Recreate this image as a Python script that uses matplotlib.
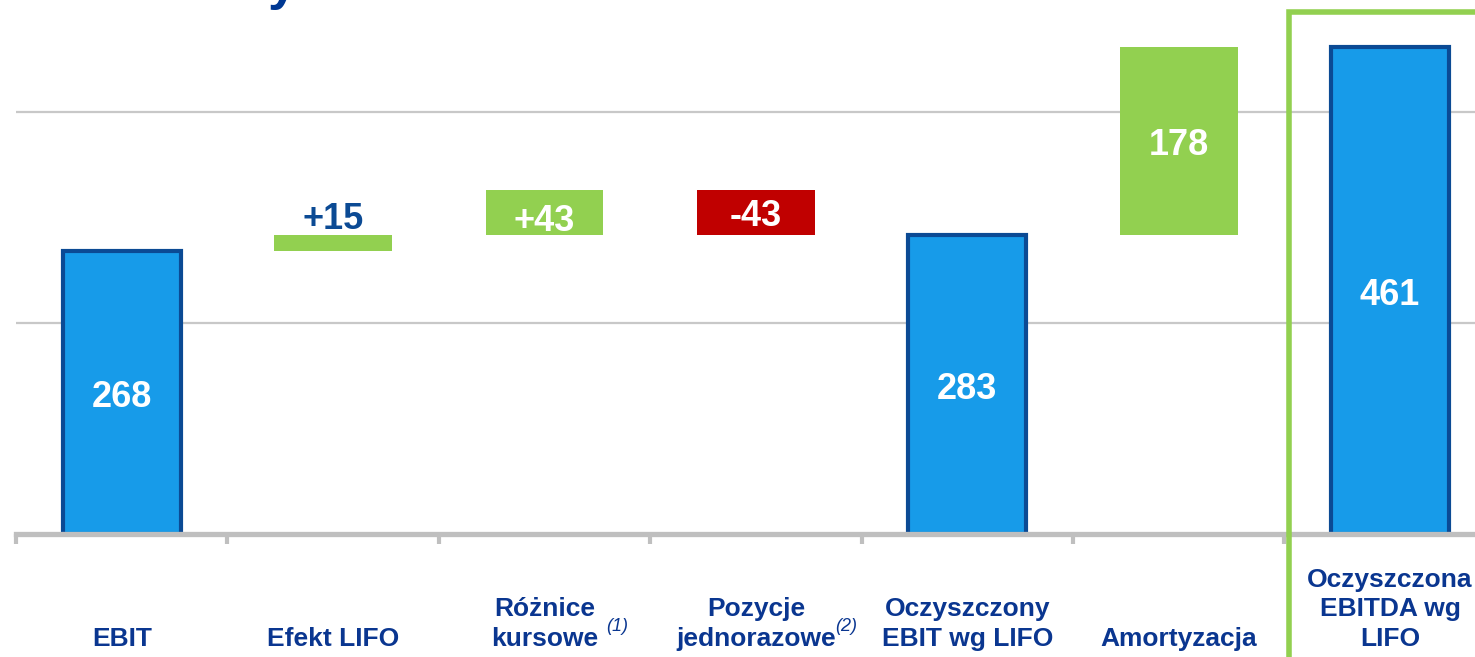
import matplotlib
matplotlib.use("Agg")
import matplotlib.pyplot as plt
from matplotlib.patches import Rectangle
from matplotlib.transforms import blended_transform_factory

categories = ["EBIT", "Efekt LIFO", "Różnice\nkursowe", "Pozycje\njednorazowe",
              "Oczyszczony\nEBIT wg LIFO", "Amortyzacja", "Oczyszczona\nEBITDA wg\nLIFO"]
values = [268, 15, 43, -43, 283, 178, 461]
kinds = ["total", "delta", "delta", "delta", "total", "delta", "total"]
labels = ["268", "+15", "+43", "-43", "283", "178", "461"]
footnotes = {2: "(1)", 3: "(2)"}

BLUE = "#179BE9"
BLUE_EDGE = "#0B4A94"
GREEN = "#92D050"
RED = "#C00000"
TEXT = "#0A3690"
GRID = "#C8C8C8"
AXIS = "#BFBFBF"

# small vertical nudges of the value labels (in data units), styling only
label_dy = [-5, -2, -9, -4, -5, -4, -5]

W, H, DPI = 1475, 657, 100
fig = plt.figure(figsize=(W / DPI, H / DPI), dpi=DPI)
plt.rcParams['font.family'] = ['Liberation Sans', 'DejaVu Sans']

x0_px, x1_px = 16, 16 + 7 * 211.4
y0_px = 534
ax = fig.add_axes([x0_px / W, (H - y0_px) / H, (x1_px - x0_px) / W, y0_px / H])
ax.set_xlim(-0.5, 6.5)
ax.set_ylim(0, y0_px / 1.056)

bw = 0.558
running = 0
for i, (v, k, lab) in enumerate(zip(values, kinds, labels)):
    dy = label_dy[i]
    if k == "total":
        bottom, height = 0, v
        running = v
        ax.bar(i, height, bw, bottom=bottom, color=BLUE, edgecolor=BLUE_EDGE,
               linewidth=3, zorder=2)
        ax.text(i, bottom + height / 2 + dy, lab, ha="center", va="center",
                color="white", fontsize=26, fontweight="bold", zorder=4)
    else:
        bottom = running if v >= 0 else running + v
        height = abs(v)
        running += v
        ax.bar(i, height, bw, bottom=bottom, color=GREEN if v >= 0 else RED,
               linewidth=0, zorder=2)
        if height < 30:
            ax.text(i, bottom + height + dy, lab, ha="center", va="bottom",
                    color=BLUE_EDGE, fontsize=26, fontweight="bold", zorder=4)
        else:
            ax.text(i, bottom + height / 2 + dy, lab, ha="center", va="center",
                    color="white", fontsize=26, fontweight="bold", zorder=4)

ax.set_yticks([200, 400])
ax.yaxis.grid(True, color=GRID, linewidth=1.6)
ax.set_axisbelow(True)
ax.tick_params(axis="y", left=False, labelleft=False)
for s in ["top", "right", "left"]:
    ax.spines[s].set_visible(False)
ax.spines["bottom"].set_color(AXIS)
ax.spines["bottom"].set_linewidth(3.8)
ax.spines["bottom"].set_zorder(3)
ax.set_xticks([i - 0.5 for i in range(8)])
ax.set_xticklabels([])
ax.tick_params(axis="x", direction="out", length=7.5, width=3, color=AXIS)

trans = blended_transform_factory(ax.transData, fig.transFigure)
for i, c in enumerate(categories):
    ax.text(i, 1 - 646 / H, c, transform=trans, ha="center", va="baseline",
            color=TEXT, fontsize=19, fontweight="bold", linespacing=1.29,
            clip_on=False)
fn_x = {2: 617 / W, 3: 846 / W}
for i, t in footnotes.items():
    fig.text(fn_x[i], 1 - 631 / H, t, ha="center", va="baseline", color=TEXT,
             fontsize=13, fontstyle="italic")

# highlight frame around the final column
fig.add_artist(Rectangle((1288.5 / W, -0.1), 0.5, 1.1 - 11.5 / H,
                         transform=fig.transFigure, fill=False,
                         edgecolor=GREEN, linewidth=4, zorder=5))

# clipped title fragment at the top
fig.text(282 / W, 1 + 1 / H, "y", ha="center", va="baseline", color="#003893",
         fontsize=38, fontweight="bold")

fig.savefig("out.png", dpi=DPI)
